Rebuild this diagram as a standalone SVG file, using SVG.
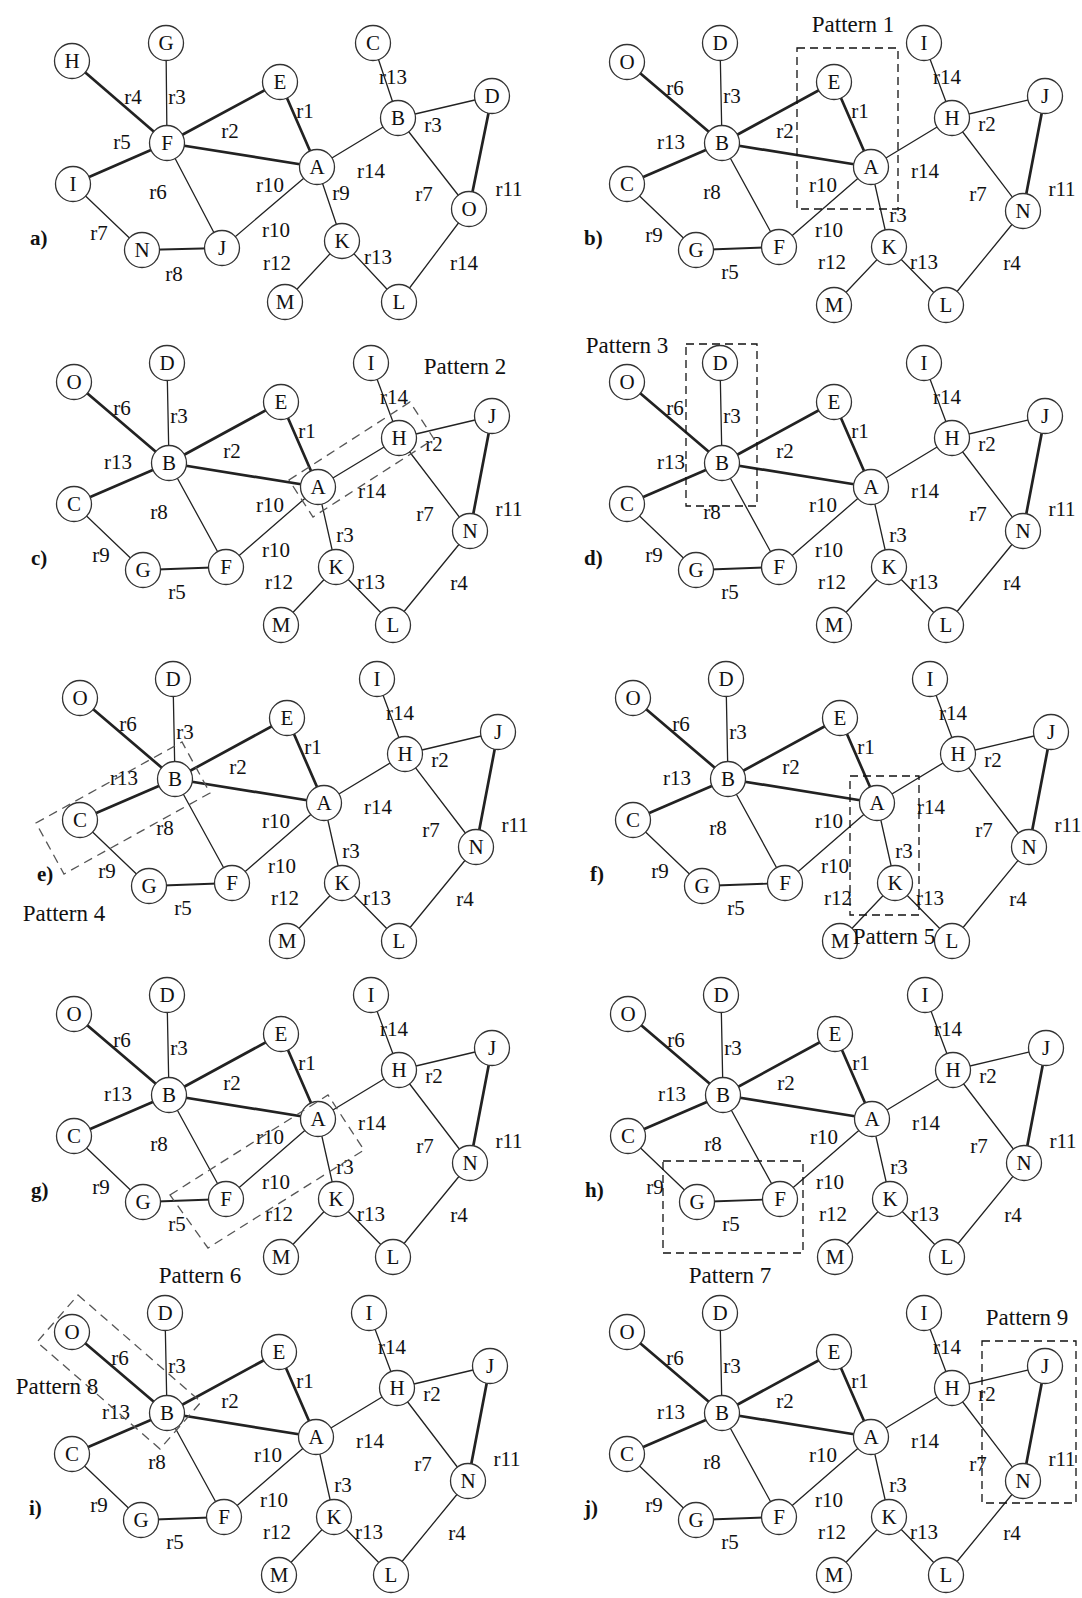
<svg xmlns="http://www.w3.org/2000/svg" width="1082" height="1598" viewBox="0 0 1082 1598">
<style>
.bg{fill:#fff}
.e line{stroke:#222;stroke-width:1.3;stroke-linecap:round}
.e line.k{stroke-width:2.7}
.e line.m{stroke-width:1.9}
.n circle{fill:#fff;stroke:#333;stroke-width:1.3}
.n text,.l text{font-family:"Liberation Serif","Times New Roman",serif;font-size:21px;text-anchor:middle;fill:#111}
.pl{font-family:"Liberation Serif","Times New Roman",serif;font-size:21px;font-weight:bold;fill:#111}
.pt{font-family:"Liberation Serif","Times New Roman",serif;font-size:23px;text-anchor:middle;fill:#111}
.db{fill:none;stroke:#111;stroke-width:1.3;stroke-dasharray:8 5}
.dg{fill:none;stroke:#555;stroke-width:1.3;stroke-dasharray:9 6}
</style>
<rect class="bg" width="1082" height="1598"/>

<!-- Panel a -->
<g id="panel-a">
<g id="a-edges" class="e">
<line class="k" x1="72" y1="61" x2="167" y2="143"/>
<line x1="166" y1="43" x2="167" y2="143"/>
<line class="k" x1="167" y1="143" x2="280" y2="82"/>
<line class="k" x1="167" y1="143" x2="317" y2="167"/>
<line class="k" x1="73" y1="184" x2="167" y2="143"/>
<line x1="167" y1="143" x2="222" y2="248"/>
<line x1="73" y1="184" x2="142" y2="250"/>
<line class="m" x1="142" y1="250" x2="222" y2="248"/>
<line x1="222" y1="248" x2="317" y2="167"/>
<line class="k" x1="280" y1="82" x2="317" y2="167"/>
<line x1="317" y1="167" x2="398" y2="118"/>
<line x1="373" y1="43" x2="398" y2="118"/>
<line x1="398" y1="118" x2="492" y2="96"/>
<line x1="398" y1="118" x2="469" y2="209"/>
<line class="k" x1="492" y1="96" x2="469" y2="209"/>
<line x1="317" y1="167" x2="342" y2="241"/>
<line x1="342" y1="241" x2="285" y2="302"/>
<line x1="342" y1="241" x2="399" y2="302"/>
<line x1="469" y1="209" x2="399" y2="302"/>
</g>
<g id="a-H" class="n"><circle cx="72" cy="61" r="17.5"/><text x="72" y="68">H</text></g>
<g id="a-G" class="n"><circle cx="166" cy="43" r="17.5"/><text x="166" y="50">G</text></g>
<g id="a-E" class="n"><circle cx="280" cy="82" r="17.5"/><text x="280" y="89">E</text></g>
<g id="a-C" class="n"><circle cx="373" cy="43" r="17.5"/><text x="373" y="50">C</text></g>
<g id="a-D" class="n"><circle cx="492" cy="96" r="17.5"/><text x="492" y="103">D</text></g>
<g id="a-B" class="n"><circle cx="398" cy="118" r="17.5"/><text x="398" y="125">B</text></g>
<g id="a-F" class="n"><circle cx="167" cy="143" r="17.5"/><text x="167" y="150">F</text></g>
<g id="a-A" class="n"><circle cx="317" cy="167" r="17.5"/><text x="317" y="174">A</text></g>
<g id="a-I" class="n"><circle cx="73" cy="184" r="17.5"/><text x="73" y="191">I</text></g>
<g id="a-O" class="n"><circle cx="469" cy="209" r="17.5"/><text x="469" y="216">O</text></g>
<g id="a-K" class="n"><circle cx="342" cy="241" r="17.5"/><text x="342" y="248">K</text></g>
<g id="a-N" class="n"><circle cx="142" cy="250" r="17.5"/><text x="142" y="257">N</text></g>
<g id="a-J" class="n"><circle cx="222" cy="248" r="17.5"/><text x="222" y="255">J</text></g>
<g id="a-M" class="n"><circle cx="285" cy="302" r="17.5"/><text x="285" y="309">M</text></g>
<g id="a-L" class="n"><circle cx="399" cy="302" r="17.5"/><text x="399" y="309">L</text></g>
<g id="a-labels" class="l">
<text x="133" y="104">r4</text><text x="177" y="104">r3</text><text x="305" y="118">r1</text><text x="393" y="84">r13</text>
<text x="122" y="149">r5</text><text x="230" y="138">r2</text><text x="433" y="132">r3</text><text x="371" y="178">r14</text>
<text x="158" y="199">r6</text><text x="270" y="192">r10</text><text x="341" y="200">r9</text><text x="424" y="201">r7</text>
<text x="509" y="196">r11</text><text x="99" y="240">r7</text><text x="276" y="237">r10</text><text x="174" y="281">r8</text>
<text x="277" y="270">r12</text><text x="378" y="264">r13</text><text x="464" y="270">r14</text>
</g>
<text class="pl" x="30" y="245">a)</text>
</g>

<!-- Panel b -->
<g id="panel-b"><g transform="translate(0,0)">
<g id="b-edges" class="e">
<line class="k" x1="627" y1="62" x2="722" y2="143"/><line x1="720" y1="43" x2="722" y2="143"/><line class="k" x1="722" y1="143" x2="834" y2="82"/><line class="k" x1="722" y1="143" x2="871" y2="167"/><line class="k" x1="627" y1="184" x2="722" y2="143"/><line x1="722" y1="143" x2="779" y2="247"/><line x1="627" y1="184" x2="696" y2="250"/><line class="m" x1="696" y1="250" x2="779" y2="247"/><line x1="779" y1="247" x2="871" y2="167"/><line class="k" x1="834" y1="82" x2="871" y2="167"/><line x1="871" y1="167" x2="952" y2="118"/><line x1="924" y1="43" x2="952" y2="118"/><line x1="952" y1="118" x2="1045" y2="96"/><line x1="952" y1="118" x2="1023" y2="211"/><line class="k" x1="1045" y1="96" x2="1023" y2="211"/><line x1="871" y1="167" x2="889" y2="247"/><line x1="889" y1="247" x2="834" y2="305"/><line x1="889" y1="247" x2="946" y2="305"/><line x1="1023" y1="211" x2="946" y2="305"/>
</g>
<g id="b-O" class="n"><circle cx="627" cy="62" r="17.5"/><text x="627" y="69">O</text></g>
<g id="b-D" class="n"><circle cx="720" cy="43" r="17.5"/><text x="720" y="50">D</text></g>
<g id="b-E" class="n"><circle cx="834" cy="82" r="17.5"/><text x="834" y="89">E</text></g>
<g id="b-I" class="n"><circle cx="924" cy="43" r="17.5"/><text x="924" y="50">I</text></g>
<g id="b-J" class="n"><circle cx="1045" cy="96" r="17.5"/><text x="1045" y="103">J</text></g>
<g id="b-H" class="n"><circle cx="952" cy="118" r="17.5"/><text x="952" y="125">H</text></g>
<g id="b-B" class="n"><circle cx="722" cy="143" r="17.5"/><text x="722" y="150">B</text></g>
<g id="b-A" class="n"><circle cx="871" cy="167" r="17.5"/><text x="871" y="174">A</text></g>
<g id="b-C" class="n"><circle cx="627" cy="184" r="17.5"/><text x="627" y="191">C</text></g>
<g id="b-N" class="n"><circle cx="1023" cy="211" r="17.5"/><text x="1023" y="218">N</text></g>
<g id="b-G" class="n"><circle cx="696" cy="250" r="17.5"/><text x="696" y="257">G</text></g>
<g id="b-F" class="n"><circle cx="779" cy="247" r="17.5"/><text x="779" y="254">F</text></g>
<g id="b-K" class="n"><circle cx="889" cy="247" r="17.5"/><text x="889" y="254">K</text></g>
<g id="b-M" class="n"><circle cx="834" cy="305" r="17.5"/><text x="834" y="312">M</text></g>
<g id="b-L" class="n"><circle cx="946" cy="305" r="17.5"/><text x="946" y="312">L</text></g>
<g id="b-labels" class="l"><text x="675" y="95">r6</text><text x="732" y="103">r3</text><text x="860" y="118">r1</text><text x="947" y="84">r14</text><text x="785" y="138">r2</text><text x="987" y="131">r2</text><text x="671" y="149">r13</text><text x="925" y="178">r14</text><text x="712" y="199">r8</text><text x="823" y="192">r10</text><text x="898" y="222">r3</text><text x="978" y="201">r7</text><text x="1062" y="196">r11</text><text x="654" y="242">r9</text><text x="829" y="237">r10</text><text x="730" y="279">r5</text><text x="832" y="269">r12</text><text x="924" y="269">r13</text><text x="1012" y="270">r4</text></g>
<text class="pl" x="584" y="245">b)</text>
</g>
<rect class="db" x="797" y="48" width="101" height="161"/>
<text class="pt" x="853" y="32">Pattern 1</text>
</g>

<!-- Panel c -->
<g id="panel-c"><g transform="translate(-553,320)">
<g id="c-edges" class="e">
<line class="k" x1="627" y1="62" x2="722" y2="143"/><line x1="720" y1="43" x2="722" y2="143"/><line class="k" x1="722" y1="143" x2="834" y2="82"/><line class="k" x1="722" y1="143" x2="871" y2="167"/><line class="k" x1="627" y1="184" x2="722" y2="143"/><line x1="722" y1="143" x2="779" y2="247"/><line x1="627" y1="184" x2="696" y2="250"/><line class="m" x1="696" y1="250" x2="779" y2="247"/><line x1="779" y1="247" x2="871" y2="167"/><line class="k" x1="834" y1="82" x2="871" y2="167"/><line x1="871" y1="167" x2="952" y2="118"/><line x1="924" y1="43" x2="952" y2="118"/><line x1="952" y1="118" x2="1045" y2="96"/><line x1="952" y1="118" x2="1023" y2="211"/><line class="k" x1="1045" y1="96" x2="1023" y2="211"/><line x1="871" y1="167" x2="889" y2="247"/><line x1="889" y1="247" x2="834" y2="305"/><line x1="889" y1="247" x2="946" y2="305"/><line x1="1023" y1="211" x2="946" y2="305"/>
</g>
<g id="c-O" class="n"><circle cx="627" cy="62" r="17.5"/><text x="627" y="69">O</text></g>
<g id="c-D" class="n"><circle cx="720" cy="43" r="17.5"/><text x="720" y="50">D</text></g>
<g id="c-E" class="n"><circle cx="834" cy="82" r="17.5"/><text x="834" y="89">E</text></g>
<g id="c-I" class="n"><circle cx="924" cy="43" r="17.5"/><text x="924" y="50">I</text></g>
<g id="c-J" class="n"><circle cx="1045" cy="96" r="17.5"/><text x="1045" y="103">J</text></g>
<g id="c-H" class="n"><circle cx="952" cy="118" r="17.5"/><text x="952" y="125">H</text></g>
<g id="c-B" class="n"><circle cx="722" cy="143" r="17.5"/><text x="722" y="150">B</text></g>
<g id="c-A" class="n"><circle cx="871" cy="167" r="17.5"/><text x="871" y="174">A</text></g>
<g id="c-C" class="n"><circle cx="627" cy="184" r="17.5"/><text x="627" y="191">C</text></g>
<g id="c-N" class="n"><circle cx="1023" cy="211" r="17.5"/><text x="1023" y="218">N</text></g>
<g id="c-G" class="n"><circle cx="696" cy="250" r="17.5"/><text x="696" y="257">G</text></g>
<g id="c-F" class="n"><circle cx="779" cy="247" r="17.5"/><text x="779" y="254">F</text></g>
<g id="c-K" class="n"><circle cx="889" cy="247" r="17.5"/><text x="889" y="254">K</text></g>
<g id="c-M" class="n"><circle cx="834" cy="305" r="17.5"/><text x="834" y="312">M</text></g>
<g id="c-L" class="n"><circle cx="946" cy="305" r="17.5"/><text x="946" y="312">L</text></g>
<g id="c-labels" class="l"><text x="675" y="95">r6</text><text x="732" y="103">r3</text><text x="860" y="118">r1</text><text x="947" y="84">r14</text><text x="785" y="138">r2</text><text x="987" y="131">r2</text><text x="671" y="149">r13</text><text x="925" y="178">r14</text><text x="712" y="199">r8</text><text x="823" y="192">r10</text><text x="898" y="222">r3</text><text x="978" y="201">r7</text><text x="1062" y="196">r11</text><text x="654" y="242">r9</text><text x="829" y="237">r10</text><text x="730" y="279">r5</text><text x="832" y="269">r12</text><text x="924" y="269">r13</text><text x="1012" y="270">r4</text></g>
<text class="pl" x="584" y="245">c)</text>
</g>
<polygon class="dg" points="289,480 410,402 434,439 313,517"/>
<text class="pt" x="465" y="374">Pattern 2</text>
</g>

<!-- Panel d -->
<g id="panel-d"><g transform="translate(0,320)">
<g id="d-edges" class="e">
<line class="k" x1="627" y1="62" x2="722" y2="143"/><line x1="720" y1="43" x2="722" y2="143"/><line class="k" x1="722" y1="143" x2="834" y2="82"/><line class="k" x1="722" y1="143" x2="871" y2="167"/><line class="k" x1="627" y1="184" x2="722" y2="143"/><line x1="722" y1="143" x2="779" y2="247"/><line x1="627" y1="184" x2="696" y2="250"/><line class="m" x1="696" y1="250" x2="779" y2="247"/><line x1="779" y1="247" x2="871" y2="167"/><line class="k" x1="834" y1="82" x2="871" y2="167"/><line x1="871" y1="167" x2="952" y2="118"/><line x1="924" y1="43" x2="952" y2="118"/><line x1="952" y1="118" x2="1045" y2="96"/><line x1="952" y1="118" x2="1023" y2="211"/><line class="k" x1="1045" y1="96" x2="1023" y2="211"/><line x1="871" y1="167" x2="889" y2="247"/><line x1="889" y1="247" x2="834" y2="305"/><line x1="889" y1="247" x2="946" y2="305"/><line x1="1023" y1="211" x2="946" y2="305"/>
</g>
<g id="d-O" class="n"><circle cx="627" cy="62" r="17.5"/><text x="627" y="69">O</text></g>
<g id="d-D" class="n"><circle cx="720" cy="43" r="17.5"/><text x="720" y="50">D</text></g>
<g id="d-E" class="n"><circle cx="834" cy="82" r="17.5"/><text x="834" y="89">E</text></g>
<g id="d-I" class="n"><circle cx="924" cy="43" r="17.5"/><text x="924" y="50">I</text></g>
<g id="d-J" class="n"><circle cx="1045" cy="96" r="17.5"/><text x="1045" y="103">J</text></g>
<g id="d-H" class="n"><circle cx="952" cy="118" r="17.5"/><text x="952" y="125">H</text></g>
<g id="d-B" class="n"><circle cx="722" cy="143" r="17.5"/><text x="722" y="150">B</text></g>
<g id="d-A" class="n"><circle cx="871" cy="167" r="17.5"/><text x="871" y="174">A</text></g>
<g id="d-C" class="n"><circle cx="627" cy="184" r="17.5"/><text x="627" y="191">C</text></g>
<g id="d-N" class="n"><circle cx="1023" cy="211" r="17.5"/><text x="1023" y="218">N</text></g>
<g id="d-G" class="n"><circle cx="696" cy="250" r="17.5"/><text x="696" y="257">G</text></g>
<g id="d-F" class="n"><circle cx="779" cy="247" r="17.5"/><text x="779" y="254">F</text></g>
<g id="d-K" class="n"><circle cx="889" cy="247" r="17.5"/><text x="889" y="254">K</text></g>
<g id="d-M" class="n"><circle cx="834" cy="305" r="17.5"/><text x="834" y="312">M</text></g>
<g id="d-L" class="n"><circle cx="946" cy="305" r="17.5"/><text x="946" y="312">L</text></g>
<g id="d-labels" class="l"><text x="675" y="95">r6</text><text x="732" y="103">r3</text><text x="860" y="118">r1</text><text x="947" y="84">r14</text><text x="785" y="138">r2</text><text x="987" y="131">r2</text><text x="671" y="149">r13</text><text x="925" y="178">r14</text><text x="712" y="199">r8</text><text x="823" y="192">r10</text><text x="898" y="222">r3</text><text x="978" y="201">r7</text><text x="1062" y="196">r11</text><text x="654" y="242">r9</text><text x="829" y="237">r10</text><text x="730" y="279">r5</text><text x="832" y="269">r12</text><text x="924" y="269">r13</text><text x="1012" y="270">r4</text></g>
<text class="pl" x="584" y="245">d)</text>
</g>
<rect class="db" x="686" y="344" width="71" height="162"/>
<text class="pt" x="627" y="353">Pattern 3</text>
</g>

<!-- Panel e -->
<g id="panel-e"><g transform="translate(-547,636)">
<g id="e-edges" class="e">
<line class="k" x1="627" y1="62" x2="722" y2="143"/><line x1="720" y1="43" x2="722" y2="143"/><line class="k" x1="722" y1="143" x2="834" y2="82"/><line class="k" x1="722" y1="143" x2="871" y2="167"/><line class="k" x1="627" y1="184" x2="722" y2="143"/><line x1="722" y1="143" x2="779" y2="247"/><line x1="627" y1="184" x2="696" y2="250"/><line class="m" x1="696" y1="250" x2="779" y2="247"/><line x1="779" y1="247" x2="871" y2="167"/><line class="k" x1="834" y1="82" x2="871" y2="167"/><line x1="871" y1="167" x2="952" y2="118"/><line x1="924" y1="43" x2="952" y2="118"/><line x1="952" y1="118" x2="1045" y2="96"/><line x1="952" y1="118" x2="1023" y2="211"/><line class="k" x1="1045" y1="96" x2="1023" y2="211"/><line x1="871" y1="167" x2="889" y2="247"/><line x1="889" y1="247" x2="834" y2="305"/><line x1="889" y1="247" x2="946" y2="305"/><line x1="1023" y1="211" x2="946" y2="305"/>
</g>
<g id="e-O" class="n"><circle cx="627" cy="62" r="17.5"/><text x="627" y="69">O</text></g>
<g id="e-D" class="n"><circle cx="720" cy="43" r="17.5"/><text x="720" y="50">D</text></g>
<g id="e-E" class="n"><circle cx="834" cy="82" r="17.5"/><text x="834" y="89">E</text></g>
<g id="e-I" class="n"><circle cx="924" cy="43" r="17.5"/><text x="924" y="50">I</text></g>
<g id="e-J" class="n"><circle cx="1045" cy="96" r="17.5"/><text x="1045" y="103">J</text></g>
<g id="e-H" class="n"><circle cx="952" cy="118" r="17.5"/><text x="952" y="125">H</text></g>
<g id="e-B" class="n"><circle cx="722" cy="143" r="17.5"/><text x="722" y="150">B</text></g>
<g id="e-A" class="n"><circle cx="871" cy="167" r="17.5"/><text x="871" y="174">A</text></g>
<g id="e-C" class="n"><circle cx="627" cy="184" r="17.5"/><text x="627" y="191">C</text></g>
<g id="e-N" class="n"><circle cx="1023" cy="211" r="17.5"/><text x="1023" y="218">N</text></g>
<g id="e-G" class="n"><circle cx="696" cy="250" r="17.5"/><text x="696" y="257">G</text></g>
<g id="e-F" class="n"><circle cx="779" cy="247" r="17.5"/><text x="779" y="254">F</text></g>
<g id="e-K" class="n"><circle cx="889" cy="247" r="17.5"/><text x="889" y="254">K</text></g>
<g id="e-M" class="n"><circle cx="834" cy="305" r="17.5"/><text x="834" y="312">M</text></g>
<g id="e-L" class="n"><circle cx="946" cy="305" r="17.5"/><text x="946" y="312">L</text></g>
<g id="e-labels" class="l"><text x="675" y="95">r6</text><text x="732" y="103">r3</text><text x="860" y="118">r1</text><text x="947" y="84">r14</text><text x="785" y="138">r2</text><text x="987" y="131">r2</text><text x="671" y="149">r13</text><text x="925" y="178">r14</text><text x="712" y="199">r8</text><text x="823" y="192">r10</text><text x="898" y="222">r3</text><text x="978" y="201">r7</text><text x="1062" y="196">r11</text><text x="654" y="242">r9</text><text x="829" y="237">r10</text><text x="730" y="279">r5</text><text x="832" y="269">r12</text><text x="924" y="269">r13</text><text x="1012" y="270">r4</text></g>
<text class="pl" x="584" y="245">e)</text>
</g>
<polygon class="dg" points="36,823 182,742 210,793 64,874"/>
<text class="pt" x="64" y="921">Pattern 4</text>
</g>

<!-- Panel f -->
<g id="panel-f"><g transform="translate(6,636)">
<g id="f-edges" class="e">
<line class="k" x1="627" y1="62" x2="722" y2="143"/><line x1="720" y1="43" x2="722" y2="143"/><line class="k" x1="722" y1="143" x2="834" y2="82"/><line class="k" x1="722" y1="143" x2="871" y2="167"/><line class="k" x1="627" y1="184" x2="722" y2="143"/><line x1="722" y1="143" x2="779" y2="247"/><line x1="627" y1="184" x2="696" y2="250"/><line class="m" x1="696" y1="250" x2="779" y2="247"/><line x1="779" y1="247" x2="871" y2="167"/><line class="k" x1="834" y1="82" x2="871" y2="167"/><line x1="871" y1="167" x2="952" y2="118"/><line x1="924" y1="43" x2="952" y2="118"/><line x1="952" y1="118" x2="1045" y2="96"/><line x1="952" y1="118" x2="1023" y2="211"/><line class="k" x1="1045" y1="96" x2="1023" y2="211"/><line x1="871" y1="167" x2="889" y2="247"/><line x1="889" y1="247" x2="834" y2="305"/><line x1="889" y1="247" x2="946" y2="305"/><line x1="1023" y1="211" x2="946" y2="305"/>
</g>
<g id="f-O" class="n"><circle cx="627" cy="62" r="17.5"/><text x="627" y="69">O</text></g>
<g id="f-D" class="n"><circle cx="720" cy="43" r="17.5"/><text x="720" y="50">D</text></g>
<g id="f-E" class="n"><circle cx="834" cy="82" r="17.5"/><text x="834" y="89">E</text></g>
<g id="f-I" class="n"><circle cx="924" cy="43" r="17.5"/><text x="924" y="50">I</text></g>
<g id="f-J" class="n"><circle cx="1045" cy="96" r="17.5"/><text x="1045" y="103">J</text></g>
<g id="f-H" class="n"><circle cx="952" cy="118" r="17.5"/><text x="952" y="125">H</text></g>
<g id="f-B" class="n"><circle cx="722" cy="143" r="17.5"/><text x="722" y="150">B</text></g>
<g id="f-A" class="n"><circle cx="871" cy="167" r="17.5"/><text x="871" y="174">A</text></g>
<g id="f-C" class="n"><circle cx="627" cy="184" r="17.5"/><text x="627" y="191">C</text></g>
<g id="f-N" class="n"><circle cx="1023" cy="211" r="17.5"/><text x="1023" y="218">N</text></g>
<g id="f-G" class="n"><circle cx="696" cy="250" r="17.5"/><text x="696" y="257">G</text></g>
<g id="f-F" class="n"><circle cx="779" cy="247" r="17.5"/><text x="779" y="254">F</text></g>
<g id="f-K" class="n"><circle cx="889" cy="247" r="17.5"/><text x="889" y="254">K</text></g>
<g id="f-M" class="n"><circle cx="834" cy="305" r="17.5"/><text x="834" y="312">M</text></g>
<g id="f-L" class="n"><circle cx="946" cy="305" r="17.5"/><text x="946" y="312">L</text></g>
<g id="f-labels" class="l"><text x="675" y="95">r6</text><text x="732" y="103">r3</text><text x="860" y="118">r1</text><text x="947" y="84">r14</text><text x="785" y="138">r2</text><text x="987" y="131">r2</text><text x="671" y="149">r13</text><text x="925" y="178">r14</text><text x="712" y="199">r8</text><text x="823" y="192">r10</text><text x="898" y="222">r3</text><text x="978" y="201">r7</text><text x="1062" y="196">r11</text><text x="654" y="242">r9</text><text x="829" y="237">r10</text><text x="730" y="279">r5</text><text x="832" y="269">r12</text><text x="924" y="269">r13</text><text x="1012" y="270">r4</text></g>
<text class="pl" x="584" y="245">f)</text>
</g>
<rect class="db" x="850" y="776" width="69" height="139"/>
<text class="pt" x="894" y="944">Pattern 5</text>
</g>

<!-- Panel g -->
<g id="panel-g"><g transform="translate(-553,952)">
<g id="g-edges" class="e">
<line class="k" x1="627" y1="62" x2="722" y2="143"/><line x1="720" y1="43" x2="722" y2="143"/><line class="k" x1="722" y1="143" x2="834" y2="82"/><line class="k" x1="722" y1="143" x2="871" y2="167"/><line class="k" x1="627" y1="184" x2="722" y2="143"/><line x1="722" y1="143" x2="779" y2="247"/><line x1="627" y1="184" x2="696" y2="250"/><line class="m" x1="696" y1="250" x2="779" y2="247"/><line x1="779" y1="247" x2="871" y2="167"/><line class="k" x1="834" y1="82" x2="871" y2="167"/><line x1="871" y1="167" x2="952" y2="118"/><line x1="924" y1="43" x2="952" y2="118"/><line x1="952" y1="118" x2="1045" y2="96"/><line x1="952" y1="118" x2="1023" y2="211"/><line class="k" x1="1045" y1="96" x2="1023" y2="211"/><line x1="871" y1="167" x2="889" y2="247"/><line x1="889" y1="247" x2="834" y2="305"/><line x1="889" y1="247" x2="946" y2="305"/><line x1="1023" y1="211" x2="946" y2="305"/>
</g>
<g id="g-O" class="n"><circle cx="627" cy="62" r="17.5"/><text x="627" y="69">O</text></g>
<g id="g-D" class="n"><circle cx="720" cy="43" r="17.5"/><text x="720" y="50">D</text></g>
<g id="g-E" class="n"><circle cx="834" cy="82" r="17.5"/><text x="834" y="89">E</text></g>
<g id="g-I" class="n"><circle cx="924" cy="43" r="17.5"/><text x="924" y="50">I</text></g>
<g id="g-J" class="n"><circle cx="1045" cy="96" r="17.5"/><text x="1045" y="103">J</text></g>
<g id="g-H" class="n"><circle cx="952" cy="118" r="17.5"/><text x="952" y="125">H</text></g>
<g id="g-B" class="n"><circle cx="722" cy="143" r="17.5"/><text x="722" y="150">B</text></g>
<g id="g-A" class="n"><circle cx="871" cy="167" r="17.5"/><text x="871" y="174">A</text></g>
<g id="g-C" class="n"><circle cx="627" cy="184" r="17.5"/><text x="627" y="191">C</text></g>
<g id="g-N" class="n"><circle cx="1023" cy="211" r="17.5"/><text x="1023" y="218">N</text></g>
<g id="g-G" class="n"><circle cx="696" cy="250" r="17.5"/><text x="696" y="257">G</text></g>
<g id="g-F" class="n"><circle cx="779" cy="247" r="17.5"/><text x="779" y="254">F</text></g>
<g id="g-K" class="n"><circle cx="889" cy="247" r="17.5"/><text x="889" y="254">K</text></g>
<g id="g-M" class="n"><circle cx="834" cy="305" r="17.5"/><text x="834" y="312">M</text></g>
<g id="g-L" class="n"><circle cx="946" cy="305" r="17.5"/><text x="946" y="312">L</text></g>
<g id="g-labels" class="l"><text x="675" y="95">r6</text><text x="732" y="103">r3</text><text x="860" y="118">r1</text><text x="947" y="84">r14</text><text x="785" y="138">r2</text><text x="987" y="131">r2</text><text x="671" y="149">r13</text><text x="925" y="178">r14</text><text x="712" y="199">r8</text><text x="823" y="192">r10</text><text x="898" y="222">r3</text><text x="978" y="201">r7</text><text x="1062" y="196">r11</text><text x="654" y="242">r9</text><text x="829" y="237">r10</text><text x="730" y="279">r5</text><text x="832" y="269">r12</text><text x="924" y="269">r13</text><text x="1012" y="270">r4</text></g>
<text class="pl" x="584" y="245">g)</text>
</g>
<polygon class="dg" points="170,1195 328,1095 364,1150 208,1248"/>
<text class="pt" x="200" y="1283">Pattern 6</text>
</g>

<!-- Panel h -->
<g id="panel-h"><g transform="translate(1,952)">
<g id="h-edges" class="e">
<line class="k" x1="627" y1="62" x2="722" y2="143"/><line x1="720" y1="43" x2="722" y2="143"/><line class="k" x1="722" y1="143" x2="834" y2="82"/><line class="k" x1="722" y1="143" x2="871" y2="167"/><line class="k" x1="627" y1="184" x2="722" y2="143"/><line x1="722" y1="143" x2="779" y2="247"/><line x1="627" y1="184" x2="696" y2="250"/><line class="m" x1="696" y1="250" x2="779" y2="247"/><line x1="779" y1="247" x2="871" y2="167"/><line class="k" x1="834" y1="82" x2="871" y2="167"/><line x1="871" y1="167" x2="952" y2="118"/><line x1="924" y1="43" x2="952" y2="118"/><line x1="952" y1="118" x2="1045" y2="96"/><line x1="952" y1="118" x2="1023" y2="211"/><line class="k" x1="1045" y1="96" x2="1023" y2="211"/><line x1="871" y1="167" x2="889" y2="247"/><line x1="889" y1="247" x2="834" y2="305"/><line x1="889" y1="247" x2="946" y2="305"/><line x1="1023" y1="211" x2="946" y2="305"/>
</g>
<g id="h-O" class="n"><circle cx="627" cy="62" r="17.5"/><text x="627" y="69">O</text></g>
<g id="h-D" class="n"><circle cx="720" cy="43" r="17.5"/><text x="720" y="50">D</text></g>
<g id="h-E" class="n"><circle cx="834" cy="82" r="17.5"/><text x="834" y="89">E</text></g>
<g id="h-I" class="n"><circle cx="924" cy="43" r="17.5"/><text x="924" y="50">I</text></g>
<g id="h-J" class="n"><circle cx="1045" cy="96" r="17.5"/><text x="1045" y="103">J</text></g>
<g id="h-H" class="n"><circle cx="952" cy="118" r="17.5"/><text x="952" y="125">H</text></g>
<g id="h-B" class="n"><circle cx="722" cy="143" r="17.5"/><text x="722" y="150">B</text></g>
<g id="h-A" class="n"><circle cx="871" cy="167" r="17.5"/><text x="871" y="174">A</text></g>
<g id="h-C" class="n"><circle cx="627" cy="184" r="17.5"/><text x="627" y="191">C</text></g>
<g id="h-N" class="n"><circle cx="1023" cy="211" r="17.5"/><text x="1023" y="218">N</text></g>
<g id="h-G" class="n"><circle cx="696" cy="250" r="17.5"/><text x="696" y="257">G</text></g>
<g id="h-F" class="n"><circle cx="779" cy="247" r="17.5"/><text x="779" y="254">F</text></g>
<g id="h-K" class="n"><circle cx="889" cy="247" r="17.5"/><text x="889" y="254">K</text></g>
<g id="h-M" class="n"><circle cx="834" cy="305" r="17.5"/><text x="834" y="312">M</text></g>
<g id="h-L" class="n"><circle cx="946" cy="305" r="17.5"/><text x="946" y="312">L</text></g>
<g id="h-labels" class="l"><text x="675" y="95">r6</text><text x="732" y="103">r3</text><text x="860" y="118">r1</text><text x="947" y="84">r14</text><text x="785" y="138">r2</text><text x="987" y="131">r2</text><text x="671" y="149">r13</text><text x="925" y="178">r14</text><text x="712" y="199">r8</text><text x="823" y="192">r10</text><text x="898" y="222">r3</text><text x="978" y="201">r7</text><text x="1062" y="196">r11</text><text x="654" y="242">r9</text><text x="829" y="237">r10</text><text x="730" y="279">r5</text><text x="832" y="269">r12</text><text x="924" y="269">r13</text><text x="1012" y="270">r4</text></g>
<text class="pl" x="584" y="245">h)</text>
</g>
<rect class="db" x="663" y="1161" width="140" height="92"/>
<text class="pt" x="730" y="1283">Pattern 7</text>
</g>

<!-- Panel i -->
<g id="panel-i"><g transform="translate(-555,1270)">
<g id="i-edges" class="e">
<line class="k" x1="627" y1="62" x2="722" y2="143"/><line x1="720" y1="43" x2="722" y2="143"/><line class="k" x1="722" y1="143" x2="834" y2="82"/><line class="k" x1="722" y1="143" x2="871" y2="167"/><line class="k" x1="627" y1="184" x2="722" y2="143"/><line x1="722" y1="143" x2="779" y2="247"/><line x1="627" y1="184" x2="696" y2="250"/><line class="m" x1="696" y1="250" x2="779" y2="247"/><line x1="779" y1="247" x2="871" y2="167"/><line class="k" x1="834" y1="82" x2="871" y2="167"/><line x1="871" y1="167" x2="952" y2="118"/><line x1="924" y1="43" x2="952" y2="118"/><line x1="952" y1="118" x2="1045" y2="96"/><line x1="952" y1="118" x2="1023" y2="211"/><line class="k" x1="1045" y1="96" x2="1023" y2="211"/><line x1="871" y1="167" x2="889" y2="247"/><line x1="889" y1="247" x2="834" y2="305"/><line x1="889" y1="247" x2="946" y2="305"/><line x1="1023" y1="211" x2="946" y2="305"/>
</g>
<g id="i-O" class="n"><circle cx="627" cy="62" r="17.5"/><text x="627" y="69">O</text></g>
<g id="i-D" class="n"><circle cx="720" cy="43" r="17.5"/><text x="720" y="50">D</text></g>
<g id="i-E" class="n"><circle cx="834" cy="82" r="17.5"/><text x="834" y="89">E</text></g>
<g id="i-I" class="n"><circle cx="924" cy="43" r="17.5"/><text x="924" y="50">I</text></g>
<g id="i-J" class="n"><circle cx="1045" cy="96" r="17.5"/><text x="1045" y="103">J</text></g>
<g id="i-H" class="n"><circle cx="952" cy="118" r="17.5"/><text x="952" y="125">H</text></g>
<g id="i-B" class="n"><circle cx="722" cy="143" r="17.5"/><text x="722" y="150">B</text></g>
<g id="i-A" class="n"><circle cx="871" cy="167" r="17.5"/><text x="871" y="174">A</text></g>
<g id="i-C" class="n"><circle cx="627" cy="184" r="17.5"/><text x="627" y="191">C</text></g>
<g id="i-N" class="n"><circle cx="1023" cy="211" r="17.5"/><text x="1023" y="218">N</text></g>
<g id="i-G" class="n"><circle cx="696" cy="250" r="17.5"/><text x="696" y="257">G</text></g>
<g id="i-F" class="n"><circle cx="779" cy="247" r="17.5"/><text x="779" y="254">F</text></g>
<g id="i-K" class="n"><circle cx="889" cy="247" r="17.5"/><text x="889" y="254">K</text></g>
<g id="i-M" class="n"><circle cx="834" cy="305" r="17.5"/><text x="834" y="312">M</text></g>
<g id="i-L" class="n"><circle cx="946" cy="305" r="17.5"/><text x="946" y="312">L</text></g>
<g id="i-labels" class="l"><text x="675" y="95">r6</text><text x="732" y="103">r3</text><text x="860" y="118">r1</text><text x="947" y="84">r14</text><text x="785" y="138">r2</text><text x="987" y="131">r2</text><text x="671" y="149">r13</text><text x="925" y="178">r14</text><text x="712" y="199">r8</text><text x="823" y="192">r10</text><text x="898" y="222">r3</text><text x="978" y="201">r7</text><text x="1062" y="196">r11</text><text x="654" y="242">r9</text><text x="829" y="237">r10</text><text x="730" y="279">r5</text><text x="832" y="269">r12</text><text x="924" y="269">r13</text><text x="1012" y="270">r4</text></g>
<text class="pl" x="584" y="245">i)</text>
</g>
<polygon class="dg" points="78,1295 201,1402 160,1449 37,1342"/>
<text class="pt" x="57" y="1394">Pattern 8</text>
</g>

<!-- Panel j -->
<g id="panel-j"><g transform="translate(0,1270)">
<g id="j-edges" class="e">
<line class="k" x1="627" y1="62" x2="722" y2="143"/><line x1="720" y1="43" x2="722" y2="143"/><line class="k" x1="722" y1="143" x2="834" y2="82"/><line class="k" x1="722" y1="143" x2="871" y2="167"/><line class="k" x1="627" y1="184" x2="722" y2="143"/><line x1="722" y1="143" x2="779" y2="247"/><line x1="627" y1="184" x2="696" y2="250"/><line class="m" x1="696" y1="250" x2="779" y2="247"/><line x1="779" y1="247" x2="871" y2="167"/><line class="k" x1="834" y1="82" x2="871" y2="167"/><line x1="871" y1="167" x2="952" y2="118"/><line x1="924" y1="43" x2="952" y2="118"/><line x1="952" y1="118" x2="1045" y2="96"/><line x1="952" y1="118" x2="1023" y2="211"/><line class="k" x1="1045" y1="96" x2="1023" y2="211"/><line x1="871" y1="167" x2="889" y2="247"/><line x1="889" y1="247" x2="834" y2="305"/><line x1="889" y1="247" x2="946" y2="305"/><line x1="1023" y1="211" x2="946" y2="305"/>
</g>
<g id="j-O" class="n"><circle cx="627" cy="62" r="17.5"/><text x="627" y="69">O</text></g>
<g id="j-D" class="n"><circle cx="720" cy="43" r="17.5"/><text x="720" y="50">D</text></g>
<g id="j-E" class="n"><circle cx="834" cy="82" r="17.5"/><text x="834" y="89">E</text></g>
<g id="j-I" class="n"><circle cx="924" cy="43" r="17.5"/><text x="924" y="50">I</text></g>
<g id="j-J" class="n"><circle cx="1045" cy="96" r="17.5"/><text x="1045" y="103">J</text></g>
<g id="j-H" class="n"><circle cx="952" cy="118" r="17.5"/><text x="952" y="125">H</text></g>
<g id="j-B" class="n"><circle cx="722" cy="143" r="17.5"/><text x="722" y="150">B</text></g>
<g id="j-A" class="n"><circle cx="871" cy="167" r="17.5"/><text x="871" y="174">A</text></g>
<g id="j-C" class="n"><circle cx="627" cy="184" r="17.5"/><text x="627" y="191">C</text></g>
<g id="j-N" class="n"><circle cx="1023" cy="211" r="17.5"/><text x="1023" y="218">N</text></g>
<g id="j-G" class="n"><circle cx="696" cy="250" r="17.5"/><text x="696" y="257">G</text></g>
<g id="j-F" class="n"><circle cx="779" cy="247" r="17.5"/><text x="779" y="254">F</text></g>
<g id="j-K" class="n"><circle cx="889" cy="247" r="17.5"/><text x="889" y="254">K</text></g>
<g id="j-M" class="n"><circle cx="834" cy="305" r="17.5"/><text x="834" y="312">M</text></g>
<g id="j-L" class="n"><circle cx="946" cy="305" r="17.5"/><text x="946" y="312">L</text></g>
<g id="j-labels" class="l"><text x="675" y="95">r6</text><text x="732" y="103">r3</text><text x="860" y="118">r1</text><text x="947" y="84">r14</text><text x="785" y="138">r2</text><text x="987" y="131">r2</text><text x="671" y="149">r13</text><text x="925" y="178">r14</text><text x="712" y="199">r8</text><text x="823" y="192">r10</text><text x="898" y="222">r3</text><text x="978" y="201">r7</text><text x="1062" y="196">r11</text><text x="654" y="242">r9</text><text x="829" y="237">r10</text><text x="730" y="279">r5</text><text x="832" y="269">r12</text><text x="924" y="269">r13</text><text x="1012" y="270">r4</text></g>
<text class="pl" x="584" y="245">j)</text>
</g>
<rect class="db" x="982" y="1341" width="94" height="162"/>
<text class="pt" x="1027" y="1325">Pattern 9</text>
</g>
</svg>
